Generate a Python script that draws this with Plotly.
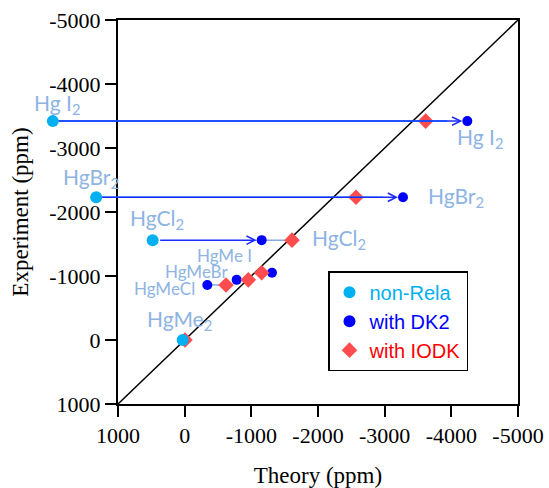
import plotly.graph_objects as go

# ---- data (ppm) ----
compounds = ["HgI2", "HgBr2", "HgCl2", "HgMeI", "HgMeBr", "HgMeCl", "HgMe2"]
experiment = [-3420, -2230, -1560, -1050, -940, -860, 0]
theory_nonrela = [2000, 1350, 480, None, None, None, 30]
theory_dk2 = [-4240, -3275, -1155, -1310, -780, -340, None]
theory_iodk = [-3615, -2570, -1610, -1155, -955, -620, -5]

tick_vals = [1000, 0, -1000, -2000, -3000, -4000, -5000]
tick_text = ["1000", "0", "-1000", "-2000", "-3000", "-4000", "-5000"]
axis_range = [1000, -5000]

# labels: (text, index, series, xshift, yshift, size)
labels = [
    ("HgCl<sub>2</sub>", 2, "non", -25, 21, 21),
    ("Hg I<sub>2</sub>", 0, "dk2", -12, -17, 21),
    ("HgBr<sub>2</sub>", 1, "dk2", 23, 0, 21),
    ("HgCl<sub>2</sub>", 2, "iodk", 18, 1, 21),
    ("HgMe I", 3, "dk2", -77, 17, 17),
    ("HgMeBr", 4, "dk2", -74, 8, 17),
    ("HgMeCl", 5, "dk2", -75, -4, 17),
    ("HgMe<sub>2</sub>", 6, "non", -38, 20, 21),
]
# labels for points lying left of the axis range: (text, index, xshift, yshift)
outside_labels = [
    ("Hg I<sub>2</sub>", 0, 6, 17),
    ("HgBr<sub>2</sub>", 1, -4, 19),
]

C_NON = "#00b0f0"
C_DK2 = "#0000ff"
C_IODK = "#ff4d4d"
C_LBL = "#8db4e2"
C_ARROW = "#1a2cff"

fig = go.Figure()

# diagonal y = x
fig.add_trace(go.Scatter(x=axis_range, y=axis_range,
                         mode="lines", line=dict(color="black", width=1.5),
                         showlegend=False, hoverinfo="skip"))

# thin connectors DK2 -> IODK
cx, cy = [], []
for i in (2, 5):
    cx += [theory_dk2[i], theory_iodk[i], None]
    cy += [experiment[i], experiment[i], None]
fig.add_trace(go.Scatter(x=cx, y=cy, mode="lines", line=dict(color="#4a7fd6", width=1),
                         showlegend=False, hoverinfo="skip"))

fig.add_trace(go.Scatter(
    x=theory_dk2, y=experiment, mode="markers", cliponaxis=False,
    name='<span style="color:#0000ff">with DK2</span>', legendrank=2,
    marker=dict(color=C_DK2, size=10, symbol="circle")))
fig.add_trace(go.Scatter(
    x=theory_iodk, y=experiment, mode="markers", cliponaxis=False,
    name='<span style="color:#ff0000">with IODK</span>', legendrank=3,
    marker=dict(color=C_IODK, size=12, symbol="diamond")))
fig.add_trace(go.Scatter(
    x=theory_nonrela, y=experiment, mode="markers", cliponaxis=False,
    name='<span style="color:#00b0f0">non-Rela</span>', legendrank=1,
    marker=dict(color=C_NON, size=12, symbol="circle")))

annotations = []
# non-Rela dots that lie outside the axis range (drawn as arrow-start circles)
for i in range(3):
    if theory_nonrela[i] > axis_range[0]:
        annotations.append(dict(
            x=theory_dk2[i], y=experiment[i], xref="x", yref="y",
            ax=theory_nonrela[i], ay=experiment[i], axref="x", ayref="y",
            showarrow=True, arrowside="start", startarrowhead=6, startarrowsize=2,
            arrowwidth=1.5, arrowcolor=C_NON, standoff=20, startstandoff=0, text=""))
# arrows non-Rela -> DK2
for i in range(3):
    annotations.append(dict(
        x=theory_dk2[i], y=experiment[i], xref="x", yref="y",
        ax=theory_nonrela[i], ay=experiment[i], axref="x", ayref="y",
        showarrow=True, arrowhead=5, arrowsize=1.1, arrowwidth=1.5,
        arrowcolor=C_ARROW, standoff=5, startstandoff=6, text=""))

series = {"non": theory_nonrela, "dk2": theory_dk2, "iodk": theory_iodk}
for txt, i, s, dx, dy, fs in labels:
    annotations.append(dict(
        x=series[s][i], y=experiment[i], xref="x", yref="y", text=txt,
        showarrow=False, xanchor="left", yanchor="middle", xshift=dx, yshift=dy,
        font=dict(family="Lato", size=fs, color=C_LBL)))
for txt, i, dx, dy in outside_labels:
    annotations.append(dict(
        x=theory_dk2[i], y=experiment[i], xref="x", yref="y",
        ax=theory_nonrela[i], ay=experiment[i], axref="x", ayref="y", text=txt,
        showarrow=True, arrowcolor="rgba(0,0,0,0)", arrowwidth=0.1, arrowhead=0,
        xshift=dx, yshift=dy,
        font=dict(family="Lato", size=21, color=C_LBL)))

axis_common = dict(
    tickvals=tick_vals, ticktext=tick_text, range=axis_range,
    showgrid=False, zeroline=False, showline=True, linecolor="black", linewidth=2,
    mirror=True, ticks="outside", ticklen=11, tickwidth=2, tickcolor="black",
    tickfont=dict(family="Liberation Serif", size=22, color="black"),
)

fig.update_layout(
    width=549, height=488,
    margin=dict(l=118, r=31, t=20, b=84),
    paper_bgcolor="white", plot_bgcolor="white",
    xaxis=dict(axis_common, automargin="left",
               title=dict(text="Theory (ppm)", standoff=22,
                          font=dict(family="Liberation Serif", size=23, color="black"))),
    yaxis=dict(axis_common, automargin="bottom",
               title=dict(text="Experiment (ppm)", standoff=14,
                          font=dict(family="Liberation Serif", size=23, color="black"))),
    legend=dict(x=0.525, y=0.346, xanchor="left", yanchor="top",
                bgcolor="white", bordercolor="black", borderwidth=1.5,
                font=dict(family="Liberation Sans", size=20),
                tracegroupgap=0, itemsizing="constant"),
    annotations=annotations,
    showlegend=True,
)

fig.write_html("out.html", config={"displayModeBar": False},
               post_script="document.body.style.margin='0px';")
